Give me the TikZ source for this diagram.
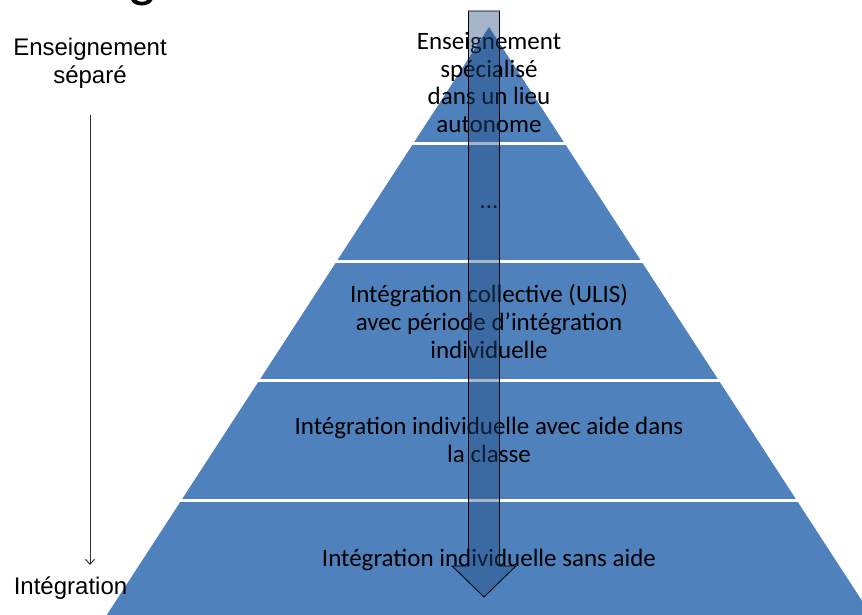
\documentclass[tikz,border=0pt]{standalone}
\usepackage{fontspec}
\setmainfont{Carlito}
\newfontfamily\sidefont{Liberation Sans}
\usetikzlibrary{arrows.meta}

\definecolor{pyrblue}{RGB}{79,129,189}
\definecolor{darkblue}{RGB}{31,73,125}

\begin{document}
\begin{tikzpicture}[x=1pt, y=-1pt,
  every node/.style = {align=center, inner sep=0pt,
    font=\fontsize{25}{28}\selectfont},
  side/.style = {font=\sidefont\fontsize{24}{28}\selectfont},
  bigarrow/.style = {fill=darkblue, fill opacity=0.4, draw=black, line width=0.8pt}]
  \useasboundingbox (0,0) rectangle (862,615);
  \clip (0,0) rectangle (862,615);

  % heading, only its last letter reaches into the page
  \node[anchor=base, font=\sidefont\fontsize{55}{60}\selectfont] (head) at (143,-5.5) {g};

  % the pyramid, cut into levels by white gaps
  \fill[pyrblue] (489,27) -- (90.5,640) -- (887.5,640) -- cycle;
  \foreach \y in {144,261,380,500}
    \draw[white, line width=3pt] (80,\y) -- (900,\y);

  \node[font=\fontsize{25}{27.5}\selectfont] (lvl1) at (489,82.5) {Enseignement\\spécialisé\\dans un lieu\\autonome};
  \node (lvl2) at (489,207) {…};
  \node (lvl3) at (489,321) {Intégration collective (ULIS)\\avec période d’intégration\\individuelle};
  \node (lvl4) at (489,440) {Intégration individuelle avec aide dans\\la classe};
  \node (lvl5) at (489,560) {Intégration individuelle sans aide};

  % arrow running down through the levels
  \path[bigarrow] (468.5,11) -- (499.5,11) -- (499.5,566) -- (516,566)
    -- (484,597) -- (452,566) -- (468.5,566) -- cycle;

  % scale on the left
  \node[side] (sep) at (90,63) {Enseignement\\séparé};
  \node[side] (integ) at (70.5,588) {Intégration};
  \coordinate (top) at (90,115);
  \coordinate (bottom) at (90,565);
  \draw[black!80, line width=1pt, -{Straight Barb[length=5pt, width=9pt]}] (top) -- (bottom);
\end{tikzpicture}
\end{document}
